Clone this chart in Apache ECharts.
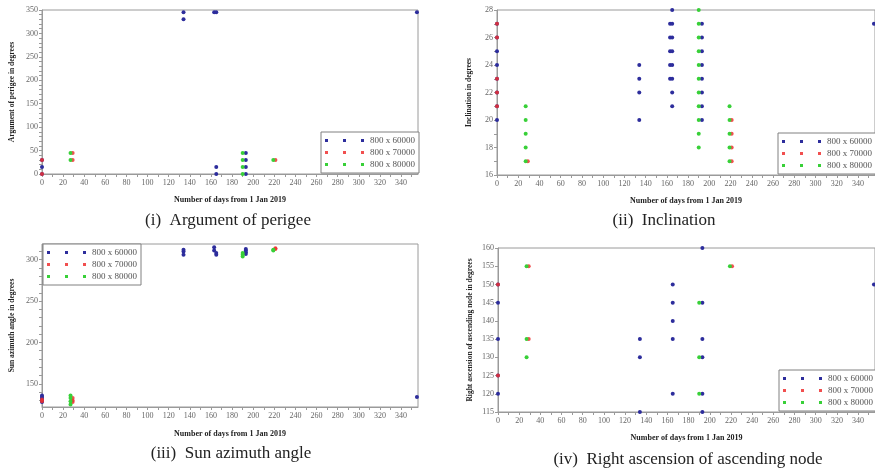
<!DOCTYPE html>
<html><head><meta charset="utf-8">
<script src="https://cdn.jsdelivr.net/npm/echarts@6/dist/echarts.min.js"></script>
<style>html,body{margin:0;padding:0;background:#fff}#c{width:875px;height:471px}</style>
</head><body><div id="c"></div>
<script>
// ---------- data ----------
const seriesNames = ['800 x 60000', '800 x 70000', '800 x 80000'];
const captions = ['(i)  Argument of perigee', '(ii)  Inclination', '(iii)  Sun azimuth angle', '(iv)  Right ascension of ascending node'];
const yNames = ['Argument of perigee in degrees', 'Inclination in degrees', 'Sun azimuth angle in degrees', 'Right ascension of ascending node in degrees'];
const xName = 'Number of days from 1 Jan 2019';

const dayLabels = [0, 20, 40, 60, 80, 100, 120, 140, 160, 180, 200, 220, 240, 260, 280, 300, 320, 340];
const dayTicks = [0, 10, 20, 30, 40, 50, 60, 70, 80, 90, 100, 110, 120, 130, 140, 150, 160, 170, 180, 190, 200, 210, 220, 230, 240, 250, 260, 270, 280, 290, 300, 310, 320, 330, 340, 350];

const perigeeLabels = [0, 50, 100, 150, 200, 250, 300, 350];
const perigeeTicks = [0, 10, 20, 30, 40, 50, 60, 70, 80, 90, 100, 110, 120, 130, 140, 150, 160, 170, 180, 190, 200, 210, 220, 230, 240, 250, 260, 270, 280, 290, 300, 310, 320, 330, 340, 350];
const inclLabels = [16, 18, 20, 22, 24, 26, 28];
const inclTicks = [16, 17, 18, 19, 20, 21, 22, 23, 24, 25, 26, 27, 28];
const sunLabels = [150, 200, 250, 300];
const sunTicks = [130, 140, 150, 160, 170, 180, 190, 200, 210, 220, 230, 240, 250, 260, 270, 280, 290, 300, 310];
const raanLabels = [115, 120, 125, 130, 135, 140, 145, 150, 155, 160];

// Argument of perigee
const perigee60k = [[0,0],[0,15],[0,30],[134,330],[134,345],[163,345],[165,345],[165,15],[165,0],[193,0],[193,15],[193,30],[193,45],[355,345]];
const perigee70k = [[0,0],[0,30],[29,30],[29,45],[221,30]];
const perigee80k = [[27,30],[27,45],[190,0],[190,15],[190,30],[190,45],[219,30]];

// Inclination
const incl60k = [[0,20],[0,21],[0,22],[0,23],[0,24],[0,25],[0,26],[0,27],[134,20],[134,22],[134,23],[134,24],
  [163,23],[163,24],[163,25],[163,26],[163,27],[165,21],[165,22],[165,23],[165,24],[165,25],[165,26],[165,27],[165,28],
  [193,20],[193,21],[193,22],[193,23],[193,24],[193,25],[193,26],[193,27],[355,27]];
const incl70k = [[0,21],[0,22],[0,23],[0,26],[0,27],[29,17],[221,17],[221,18],[221,19],[221,20]];
const incl80k = [[27,17],[27,18],[27,19],[27,20],[27,21],[190,18],[190,19],[190,20],[190,21],[190,22],[190,23],[190,24],[190,25],[190,26],[190,27],[190,28],
  [219,17],[219,18],[219,19],[219,20],[219,21]];

// Sun azimuth angle
const sun60k = [[0,128],[0,130],[0,132],[0,134],[0,136],[134,306],[134,310],[134,312],[163,315],[163,311],[165,308],[165,306],[193,307],[193,309],[193,311],[193,313],[355,134]];
const sun70k = [[0,129],[0,131],[29,133],[29,130],[29,128],[221,313],[221,314]];
const sun80k = [[27,136],[27,133],[27,129],[27,125],[190,304],[190,306],[190,308],[219,311],[219,312]];

// Right ascension of ascending node
const raan60k = [[0,120],[0,125],[0,135],[0,145],[0,150],[134,115],[134,130],[134,135],[165,120],[165,135],[165,140],[165,145],[165,150],
  [193,115],[193,120],[193,130],[193,135],[193,145],[193,160],[355,150]];
const raan70k = [[0,125],[0,150],[29,135],[29,155],[221,155]];
const raan80k = [[27,130],[27,135],[27,155],[190,120],[190,130],[190,145],[219,155]];

// ---------- chart ----------
const colors = ['#2d2d9c', '#ee3030', '#38d038'];
const serif = 'Liberation Serif';
const grids = [
  {left: 42, top: 10, width: 376, height: 164},
  {left: 497, top: 10, width: 378, height: 165},
  {left: 42, top: 244, width: 376, height: 163},
  {left: 498, top: 248, width: 377, height: 164}
];
const yRanges = [[0, 350, perigeeLabels, perigeeTicks], [16, 28, inclLabels, inclTicks], [122, 319, sunLabels, sunTicks], [115, 160, raanLabels, raanLabels]];
const seriesData = [[perigee60k, perigee70k, perigee80k], [incl60k, incl70k, incl80k], [sun60k, sun70k, sun80k], [raan60k, raan70k, raan80k]];
const yGaps = [26, 24, 26, 24];
const xGaps = [22, 22, 23, 22];
const legendPos = [{left: 321, top: 132}, {left: 778, top: 133}, {left: 43, top: 244}, {left: 779, top: 370}];
const captionPos = [{x: 228, y: 212}, {x: 664, y: 212}, {x: 231, y: 445}, {x: 688, y: 451}];

const axisLineStyle = {color: '#9a9a9a', width: 1};
const option = {
  backgroundColor: '#fff',
  animation: false,
  color: colors,
  title: captions.map((t, i) => ({
    text: t, left: captionPos[i].x, top: captionPos[i].y, textAlign: 'center', padding: 0,
    textStyle: {fontFamily: serif, fontSize: 17, fontWeight: 'normal', color: '#222'}
  })),
  grid: grids.map(g => Object.assign({show: true, borderColor: '#9a9a9a', borderWidth: 1, backgroundColor: '#fff'}, g)),
  legend: legendPos.map(p => ({
    data: seriesNames, orient: 'vertical', left: p.left, top: p.top,
    icon: 'path://M0,0h3v3h-3zM18,0h3v3h-3zM36,0h3v3h-3z', itemWidth: 39, itemHeight: 3, itemGap: 1,
    padding: [3, 4, 3, 4], borderColor: '#808080', borderWidth: 1, backgroundColor: '#fff',
    textStyle: {fontFamily: serif, fontSize: 9, color: '#555', lineHeight: 11, padding: [0, 0, 0, 1]},
    selectedMode: false
  })),
  xAxis: grids.map((g, i) => ({
    type: 'value', gridIndex: i, min: 0, max: 356,
    name: xName, nameLocation: 'middle', nameGap: xGaps[i],
    nameTextStyle: {fontFamily: serif, fontSize: 8, fontWeight: 'bold', color: '#222'},
    axisLine: {show: true, lineStyle: axisLineStyle},
    axisTick: {show: true, length: 3, lineStyle: {color: '#9a9a9a'}, customValues: dayTicks},
    axisLabel: {fontFamily: serif, fontSize: 8, color: '#666', margin: 5, customValues: dayLabels},
    splitLine: {show: false}
  })),
  yAxis: grids.map((g, i) => ({
    type: 'value', gridIndex: i, min: yRanges[i][0], max: yRanges[i][1],
    name: yNames[i], nameLocation: 'middle', nameGap: yGaps[i],
    nameTextStyle: {fontFamily: serif, fontSize: 7.5, fontWeight: 'bold', color: '#222'},
    axisLine: {show: true, lineStyle: axisLineStyle},
    axisTick: {show: true, length: 3, lineStyle: {color: '#9a9a9a'}, customValues: yRanges[i][3]},
    axisLabel: {fontFamily: serif, fontSize: 8, color: '#666', margin: 4, customValues: yRanges[i][2]},
    splitLine: {show: false}
  })),
  series: []
};
seriesData.forEach((group, gi) => {
  group.forEach((d, si) => {
    option.series.push({
      type: 'scatter', name: seriesNames[si], xAxisIndex: gi, yAxisIndex: gi,
      data: d, symbol: 'circle', symbolSize: 4, clip: false,
      itemStyle: {color: colors[si], opacity: si === 1 ? 0.85 : 1}
    });
  });
});
const chart = echarts.init(document.getElementById('c'), null, {renderer: 'canvas'});
chart.setOption(option);
</script>
</body></html>
